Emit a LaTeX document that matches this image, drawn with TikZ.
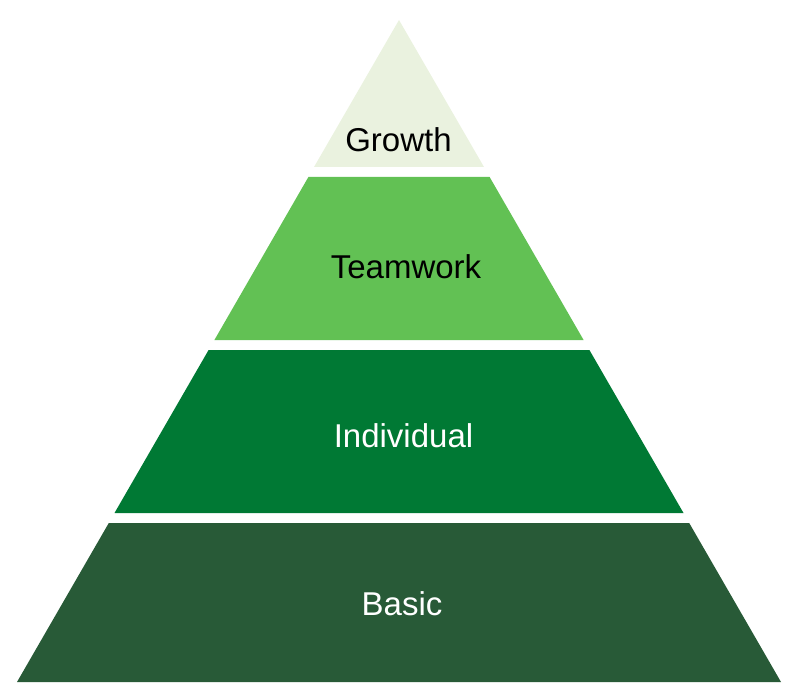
\documentclass[tikz,border=0pt]{standalone}
\usepackage{fontspec}
\setmainfont{Liberation Sans}
\definecolor{cGrowth}{HTML}{EAF2DF}
\definecolor{cTeam}{HTML}{62C154}
\definecolor{cIndiv}{HTML}{007934}
\definecolor{cBasic}{HTML}{285A37}
\begin{document}
\begin{tikzpicture}[x=1pt,y=-1pt,
  lbl/.style={anchor=base,inner sep=0pt,font=\fontsize{33}{36}\selectfont}]
\useasboundingbox (0,0) rectangle (799,692);
\fill[cGrowth] (399,20) -- (484,167) -- (314,167) -- cycle;
\fill[cTeam] (308.4,177) -- (489.6,177) -- (583.6,340) -- (214.4,340) -- cycle;
\fill[cIndiv] (208.6,350) -- (589.4,350) -- (683.5,513) -- (114.5,513) -- cycle;
\fill[cBasic] (108.8,523) -- (689.2,523) -- (781,682) -- (17,682) -- cycle;
\node[lbl,text=black] (growth) at (398.5,152) {Growth};
\node[lbl,text=black] (teamwork) at (406,278) {Teamwork};
\node[lbl,text=white] (individual) at (403.5,447) {Individual};
\node[lbl,text=white] (basic) at (402,615) {Basic};
\end{tikzpicture}
\end{document}
